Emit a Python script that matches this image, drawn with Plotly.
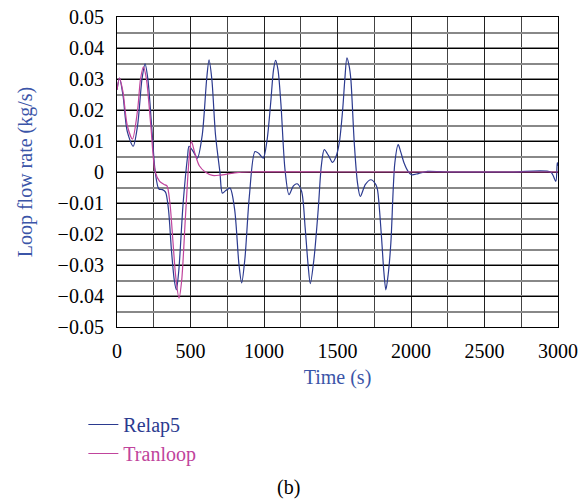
import plotly.graph_objects as go

# Relap5 series (time s, loop flow rate kg/s)
relap5_t = [0, 17, 40, 70, 110, 140, 170, 191, 210, 240, 260, 285, 309, 330, 350, 370, 390, 404,
            420, 450, 480, 490, 520, 547, 580, 610, 626, 645, 670, 700, 717, 740, 769, 800, 830,
            848, 870, 900, 939, 965, 995, 1020, 1045, 1065, 1079, 1095, 1115, 1143, 1170, 1200,
            1226, 1256, 1280, 1300, 1315, 1340, 1369, 1390, 1410, 1440, 1466, 1490, 1512, 1535,
            1550, 1564, 1580, 1591, 1614, 1636, 1655, 1690, 1727, 1760, 1772, 1799, 1815, 1829,
            1845, 1863, 1890, 1913, 1930, 1953, 1980, 2003, 2050, 2112, 2200, 2300, 2500, 2700,
            2950, 2985, 2995, 3000]
relap5_q = [0.0265, 0.0303, 0.025, 0.013, 0.0083, 0.015, 0.030, 0.0349, 0.030, 0.012, 0.0,
            -0.0055, -0.0057, -0.0065, -0.012, -0.025, -0.035, -0.038, -0.032, -0.010, 0.005,
            0.0083, 0.0065, 0.0045, 0.012, 0.030, 0.0362, 0.030, 0.012, 0.0, -0.0068, -0.0060,
            -0.0052, -0.012, -0.030, -0.0358, -0.028, -0.008, 0.0066, 0.0060, 0.0045, 0.010,
            0.022, 0.033, 0.036, 0.033, 0.022, 0.0007, -0.0073, -0.0045, -0.0038, -0.0063,
            -0.018, -0.030, -0.036, -0.028, -0.012, 0.002, 0.0072, 0.0052, 0.0031, 0.005, 0.0094,
            0.020, 0.030, 0.0368, 0.034, 0.0298, 0.0094, -0.0035, -0.0079, -0.004, -0.0025,
            -0.004, -0.0057, -0.0208, -0.032, -0.038, -0.033, -0.0229, 0.0029, 0.0088, 0.0065,
            0.0029, 0.0002, -0.0009, -0.0005, 0.0002, 0.0001, 0.0, 0.0, 0.0, 0.0, -0.003, 0.003,
            0.002]

# Tranloop series
tranloop_t = [0, 17, 40, 70, 105, 140, 160, 180, 200, 230, 260, 290, 320, 340, 360, 380, 400,
              422, 440, 465, 490, 506, 530, 560, 600, 650, 700, 800, 900, 1500, 2000, 2500, 3000]
tranloop_q = [0.0265, 0.0303, 0.026, 0.015, 0.0106, 0.020, 0.030, 0.0339, 0.030, 0.015, 0.0,
              -0.003, -0.0040, -0.0045, -0.010, -0.022, -0.034, -0.0407, -0.035, -0.015, 0.004,
              0.0099, 0.006, 0.002, 0.0, -0.0011, -0.001, -0.0003, 0.0, 0.0, 0.0, 0.0, 0.0]

x_ticks = [0, 500, 1000, 1500, 2000, 2500, 3000]
y_ticks = [-0.05, -0.04, -0.03, -0.02, -0.01, 0, 0.01, 0.02, 0.03, 0.04, 0.05]
y_tick_labels = ["\u22120.05", "\u22120.04", "\u22120.03", "\u22120.02", "\u22120.01", "0",
                 "0.01", "0.02", "0.03", "0.04", "0.05"]

BLUE = "#2b3a8f"
PINK = "#c0449c"
TITLE_BLUE = "#3b55a8"
FONT = "Liberation Serif"

fig = go.Figure()
fig.add_trace(go.Scatter(x=relap5_t, y=relap5_q, mode="lines",
                         line=dict(color=BLUE, width=1.2, shape="spline", smoothing=0.8),
                         name="<span style='color:%s'>Relap5</span>" % BLUE))
fig.add_trace(go.Scatter(x=tranloop_t, y=tranloop_q, mode="lines",
                         line=dict(color=PINK, width=1.2, shape="spline", smoothing=0.8),
                         name="<span style='color:%s'>Tranloop</span>" % PINK))

fig.update_layout(
    width=587, height=500,
    margin=dict(l=117, r=29, t=17, b=173, autoexpand=False),
    paper_bgcolor="white", plot_bgcolor="white",
    font=dict(family=FONT, size=20, color="black"),
    showlegend=True,
    legend=dict(xref="container", yref="container", x=0.142, y=0.19,
                xanchor="left", yanchor="top", bgcolor="rgba(0,0,0,0)",
                font=dict(family=FONT, size=20), tracegroupgap=0),
    annotations=[
        dict(text="(b)", xref="paper", yref="paper", x=0.39, y=-0.519,
             xanchor="center", yanchor="middle", showarrow=False,
             font=dict(family=FONT, size=20, color="black")),
        dict(text="Loop flow rate (kg/s)", xref="paper", yref="paper", x=-0.208, y=0.5,
             xanchor="center", yanchor="middle", textangle=-90, showarrow=False,
             font=dict(family=FONT, size=20, color=TITLE_BLUE)),
    ],
)
fig.update_xaxes(
    range=[0, 3000], tickvals=x_ticks, ticktext=[str(v) for v in x_ticks],
    showgrid=True, gridcolor="#222222", gridwidth=1,
    minor=dict(dtick=250, tick0=0, showgrid=True, gridcolor="#444444", gridwidth=1),
    showline=True, linecolor="black", linewidth=1.2, mirror=True,
    zeroline=False, ticks="", ticklabelstandoff=6, automargin=True,
    tickfont=dict(family=FONT, size=20, color="black"),
    title=dict(text="Time (s)", font=dict(family=FONT, size=20, color=TITLE_BLUE), standoff=8),
)
fig.update_yaxes(
    range=[-0.05, 0.05], tickvals=y_ticks, ticktext=y_tick_labels,
    showgrid=True, gridcolor="black", gridwidth=1,
    minor=dict(dtick=0.005, tick0=0, showgrid=True, gridcolor="#888888", gridwidth=1.6),
    showline=True, linecolor="black", linewidth=1.2, mirror=True,
    zeroline=False, ticks="", ticklabelstandoff=8, automargin=True,
    tickfont=dict(family=FONT, size=20, color="black"),
)

fig.write_html("out.html")
